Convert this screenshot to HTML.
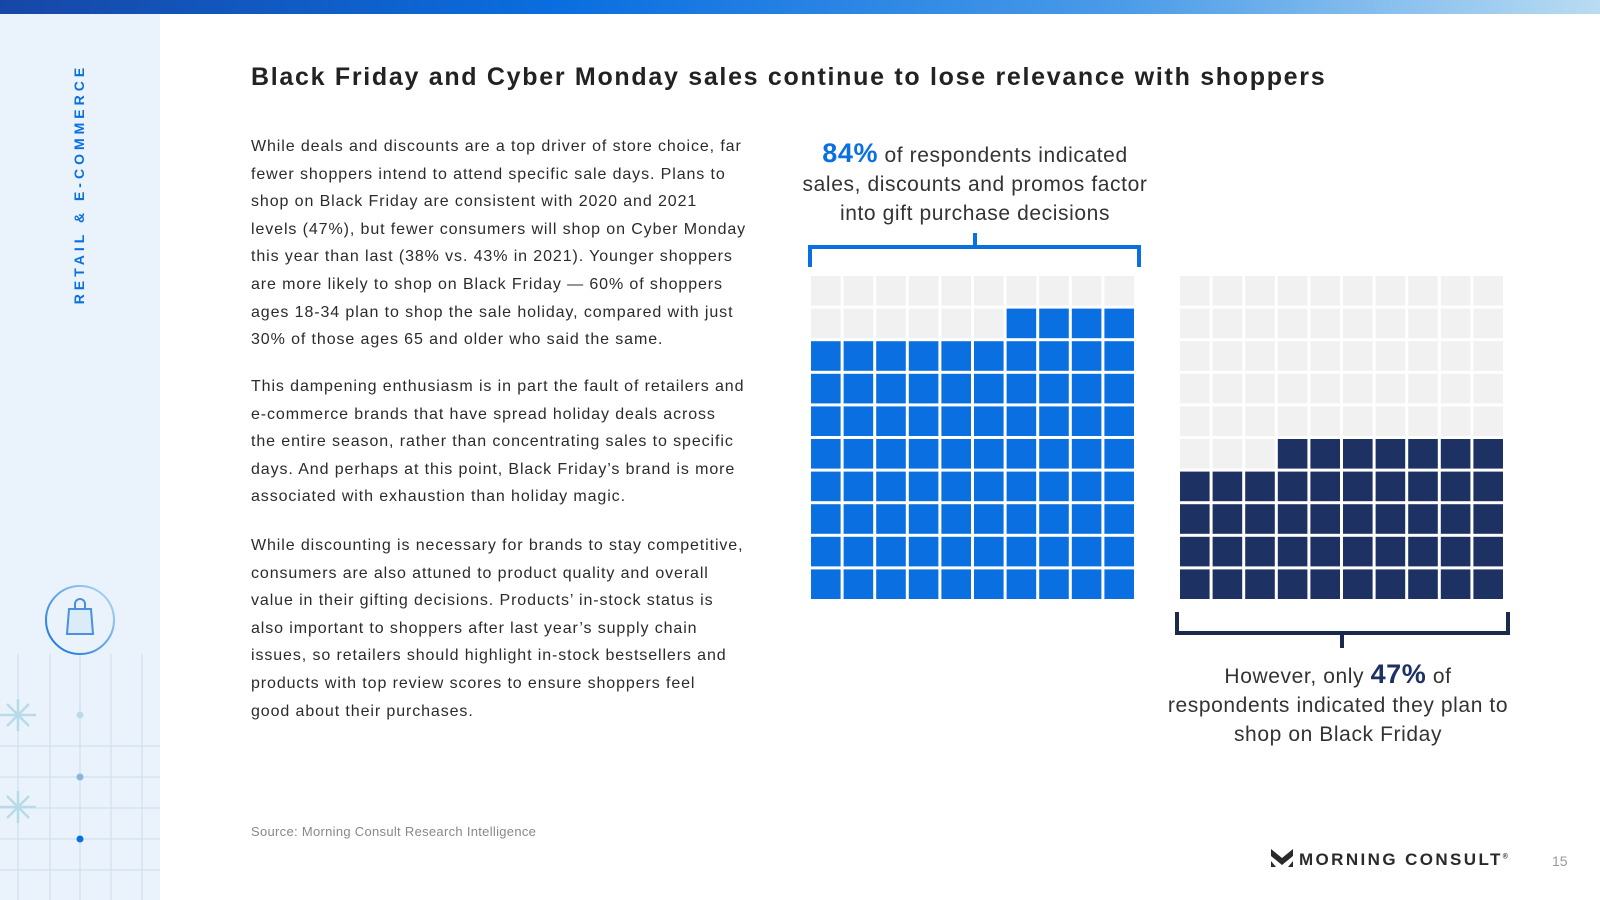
<!DOCTYPE html>
<html><head><meta charset="utf-8">
<style>
*{margin:0;padding:0;box-sizing:border-box}
body{width:1600px;height:900px;position:relative;overflow:hidden;background:#fff;font-family:"Liberation Sans",sans-serif;color:#2b2b2b}
.abs{position:absolute}
#topbar{left:0;top:0;width:1600px;height:14px;background:linear-gradient(90deg,#1747a6 0%,#0a6ee0 35%,#4a9be8 70%,#b9dcf2 100%)}
#sidebar{left:0;top:14px;width:160px;height:886px;background:#eaf3fb}
#side-label{left:79px;top:184px;transform:translate(-50%,-50%) rotate(-90deg);white-space:nowrap;color:#0a6fe0;font-weight:bold;font-size:14px;letter-spacing:4px}
#title{left:251px;top:63px;font-size:25px;font-weight:bold;color:#222;white-space:nowrap;letter-spacing:1.7px}
.body{left:251px;font-size:16px;line-height:27.6px;color:#2b2b2b;letter-spacing:0.9px;white-space:nowrap}
#src{left:251px;top:824px;font-size:13px;color:#888;letter-spacing:0.3px}
.callout{text-align:center;font-size:21px;line-height:29px;color:#333;white-space:nowrap;letter-spacing:0.6px}
#logo{left:1271px;top:849px;font-size:17px;font-weight:bold;letter-spacing:2.4px;color:#2a2a2a;white-space:nowrap}
#pg{left:1552px;top:853px;font-size:14px;color:#999}
</style></head><body>
<div class="abs" id="topbar"></div>
<div class="abs" id="sidebar">
<svg width="160" height="886" style="position:absolute;left:0;top:0">
 <g stroke="#c9def2" stroke-width="1">
  <line x1="18" y1="640" x2="18" y2="886"/><line x1="50" y1="640" x2="50" y2="886"/><line x1="80" y1="640" x2="80" y2="886"/><line x1="111" y1="640" x2="111" y2="886"/><line x1="142" y1="640" x2="142" y2="886"/>
  <line x1="0" y1="732" x2="160" y2="732"/><line x1="0" y1="763" x2="160" y2="763"/><line x1="0" y1="794" x2="160" y2="794"/><line x1="0" y1="825" x2="160" y2="825"/><line x1="0" y1="856" x2="160" y2="856"/>
 </g>
 <g stroke="#b7dbe8" stroke-width="2.5">
  <line x1="0" y1="701" x2="36" y2="701"/><line x1="18" y1="685" x2="18" y2="717"/><line x1="7" y1="690" x2="29" y2="712"/><line x1="29" y1="690" x2="7" y2="712"/>
  <line x1="0" y1="793" x2="36" y2="793"/><line x1="18" y1="777" x2="18" y2="809"/><line x1="7" y1="782" x2="29" y2="804"/><line x1="29" y1="782" x2="7" y2="804"/>
 </g>
 <circle cx="80" cy="701" r="3.5" fill="#b7dbe8"/><circle cx="80" cy="763" r="3.5" fill="#86b6e0"/><circle cx="80" cy="825" r="3.5" fill="#0a6fe0"/>
 <defs><linearGradient id="cg" x1="0" y1="1" x2="1" y2="0"><stop offset="0" stop-color="#0a6fe0"/><stop offset="1" stop-color="#b9dcf2"/></linearGradient></defs>
 <circle cx="80" cy="606" r="34" fill="none" stroke="url(#cg)" stroke-width="2"/>
 <path d="M69 595 L91 595 L93 620 L67 620 Z" fill="#dcebf8" stroke="#4a8fe0" stroke-width="2"/>
 <path d="M75 595 V590 a5 5 0 0 1 10 0 V595" fill="none" stroke="#4a8fe0" stroke-width="2"/>
</svg>
</div>
<div class="abs" id="side-label">RETAIL &amp; E-COMMERCE</div>

<div class="abs" id="title">Black Friday and Cyber Monday sales continue to lose relevance with shoppers</div>

<div class="abs body" style="top:133px">While deals and discounts are a top driver of store choice, far<br>fewer shoppers intend to attend specific sale days. Plans to<br>shop on Black Friday are consistent with 2020 and 2021<br>levels (47%), but fewer consumers will shop on Cyber Monday<br>this year than last (38% vs. 43% in 2021). Younger shoppers<br>are more likely to shop on Black Friday — 60% of shoppers<br>ages 18-34 plan to shop the sale holiday, compared with just<br>30% of those ages 65 and older who said the same.</div>
<div class="abs body" style="top:373px">This dampening enthusiasm is in part the fault of retailers and<br>e-commerce brands that have spread holiday deals across<br>the entire season, rather than concentrating sales to specific<br>days. And perhaps at this point, Black Friday’s brand is more<br>associated with exhaustion than holiday magic.</div>
<div class="abs body" style="top:532px">While discounting is necessary for brands to stay competitive,<br>consumers are also attuned to product quality and overall<br>value in their gifting decisions. Products’ in-stock status is<br>also important to shoppers after last year’s supply chain<br>issues, so retailers should highlight in-stock bestsellers and<br>products with top review scores to ensure shoppers feel<br>good about their purchases.</div>

<div class="abs callout" style="left:975px;top:139px;transform:translateX(-50%)"><span style="color:#0a6fe0;font-weight:bold;font-size:27px">84%</span> of respondents indicated<br>sales, discounts and promos factor<br>into gift purchase decisions</div>
<div class="abs callout" style="left:1338px;top:660px;transform:translateX(-50%)">However, only <span style="color:#1e3163;font-weight:bold;font-size:27px">47%</span> of<br>respondents indicated they plan to<br>shop on Black Friday</div>

<svg id="chart" class="abs" style="left:0;top:0" width="1600" height="900">
 <g fill="#0a6fe0">
  <rect x="808" y="245" width="333" height="4"/><rect x="808" y="245" width="4" height="22"/><rect x="1137" y="245" width="4" height="22"/><rect x="973" y="233" width="4" height="14"/>
 </g>
 <g fill="#1a2a4d">
  <rect x="1175" y="631" width="335" height="4"/><rect x="1175" y="612" width="4" height="22"/><rect x="1506" y="612" width="4" height="22"/><rect x="1340" y="633" width="4" height="15"/>
 </g>
</svg>

<div class="abs" id="src">Source: Morning Consult Research Intelligence</div>
<div class="abs" id="logo"><svg width="22" height="18" style="vertical-align:-2px;margin-right:6px"><path d="M0 0 L11 9 L22 0 V7 L11 16 L0 7Z" fill="#2a2a2a"/><path d="M0 12 L5 18 H0Z M22 12 L17 18 H22Z" fill="#2a2a2a"/></svg>MORNING CONSULT<sup style="font-size:7px">®</sup></div>
<div class="abs" id="pg">15</div>

<script>
const charts = ["sales-discounts","black-friday"];
const values = [84, 47];
const fillColors = ["#0a6fe0","#1e3163"];
const svg = document.getElementById('chart');
const NS = 'http://www.w3.org/2000/svg';
const originX = [811, 1180], originY = 276, pitch = 32.6, cell = 29.6;
charts.forEach((name, c) => {
  const g = document.createElementNS(NS,'g');
  
  
  svg.appendChild(g);
  for (let i = 0; i < 100; i++) {
    const row = Math.floor(i/10), col = i%10;
    const idxFromEnd = 99 - i;
    const filled = idxFromEnd < values[c];
    const r = document.createElementNS(NS,'rect');
    r.setAttribute('x', originX[c] + col*pitch);
    r.setAttribute('y', originY + row*pitch);
    r.setAttribute('width', cell);
    r.setAttribute('height', cell);
    r.setAttribute('fill', filled ? fillColors[c] : '#f1f1f1');
    
    
    g.appendChild(r);
  }
});
</script>
</body></html>
